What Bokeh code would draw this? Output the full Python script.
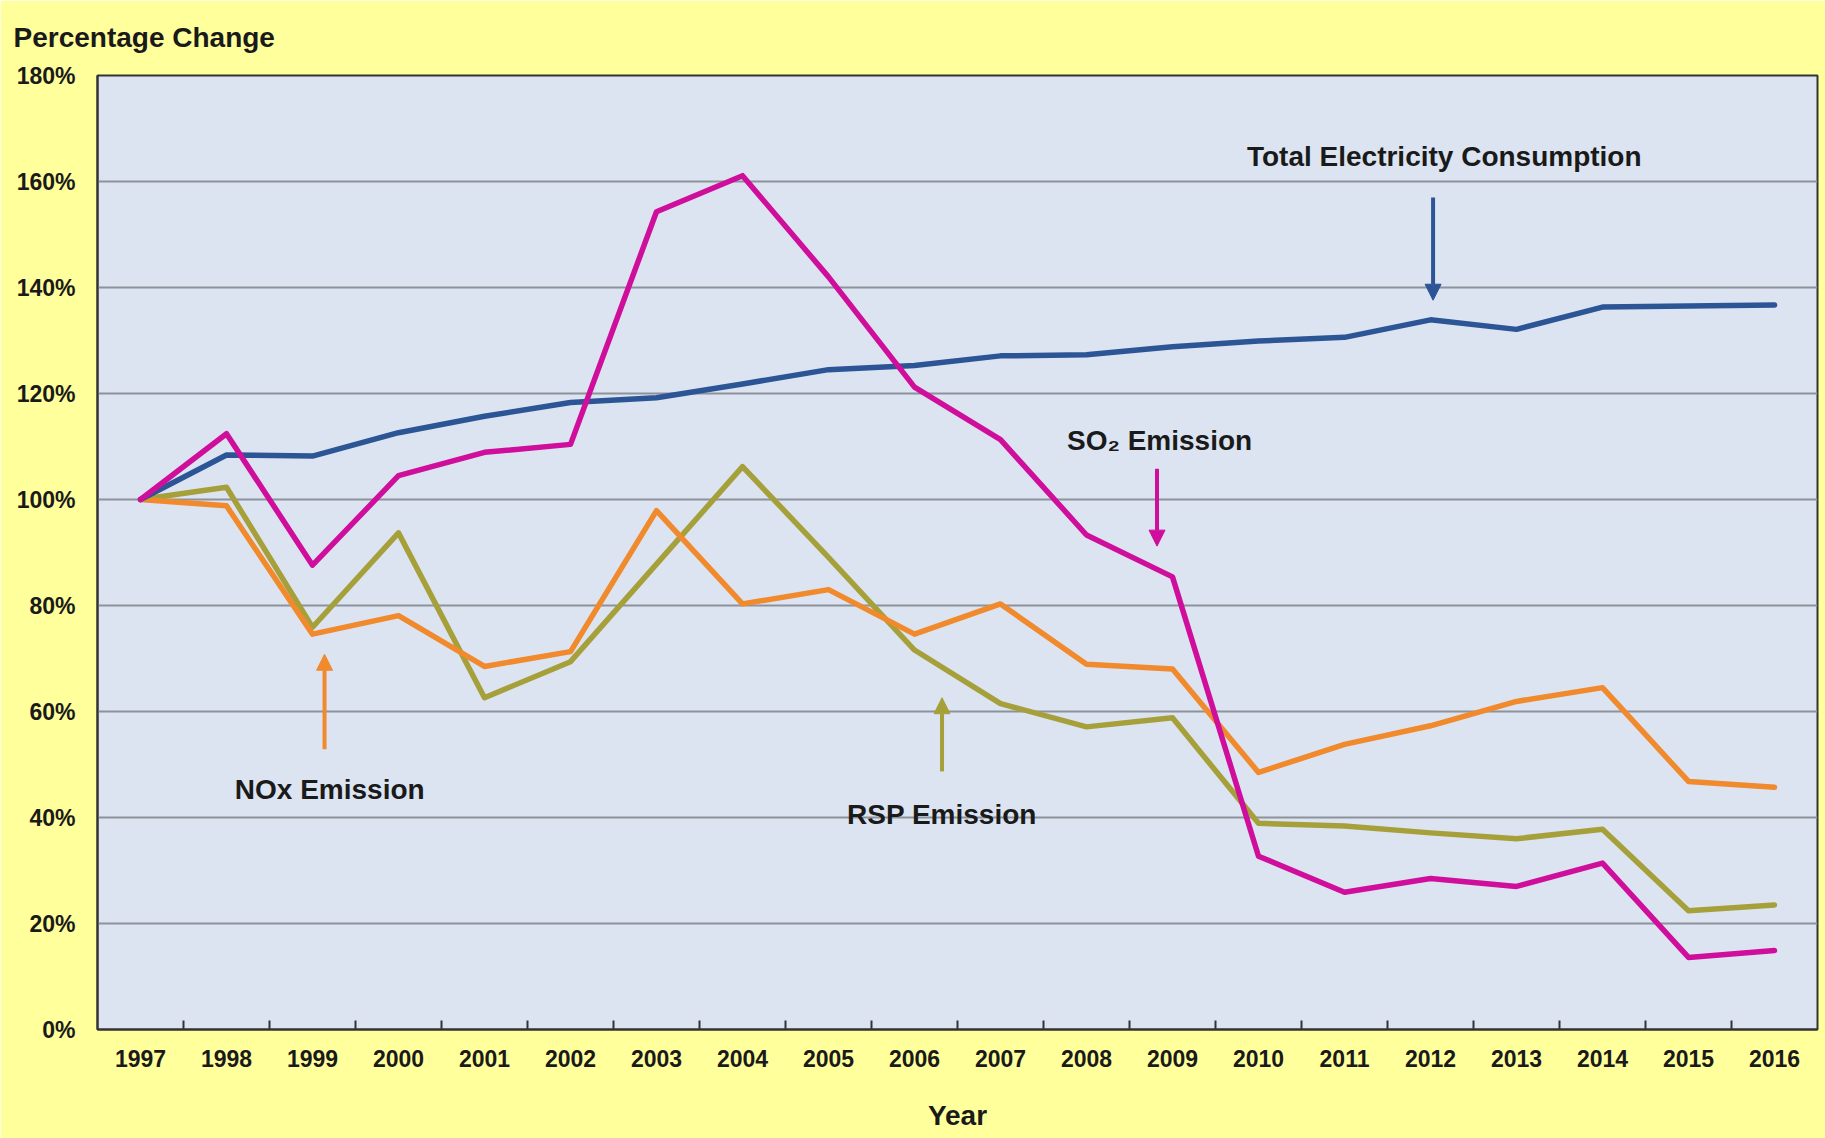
from bokeh.plotting import figure
from bokeh.models import (Range1d, FixedTicker, Label, Arrow, NormalHead, Title,
                          NumeralTickFormatter)
from bokeh.embed import file_html
from bokeh.resources import INLINE

# ---- data: percentage of 1997 level ----
years = ["1997", "1998", "1999", "2000", "2001", "2002", "2003", "2004", "2005", "2006",
         "2007", "2008", "2009", "2010", "2011", "2012", "2013", "2014", "2015", "2016"]

electricity = [100.0, 108.4, 108.2, 112.6, 115.7, 118.3, 119.2, 121.8, 124.5, 125.3,
               127.1, 127.3, 128.8, 129.9, 130.6, 133.9, 132.1, 136.3, 136.5, 136.7]
so2 = [100.0, 112.4, 87.6, 104.5, 108.9, 110.4, 154.3, 161.1, 142.0, 121.2,
       111.3, 93.3, 85.4, 32.7, 25.9, 28.5, 27.0, 31.4, 13.6, 14.9]
nox = [100.0, 98.8, 74.6, 78.1, 68.5, 71.3, 97.9, 80.3, 83.0, 74.6,
       80.3, 68.9, 68.0, 48.5, 53.8, 57.3, 61.9, 64.5, 46.8, 45.7]
rsp = [100.0, 102.3, 75.9, 93.7, 62.6, 69.4, 87.8, 106.2, 89.1, 71.6,
       61.5, 57.1, 58.8, 38.9, 38.4, 37.1, 36.0, 37.8, 22.4, 23.5]

y_ticks = [0, 20, 40, 60, 80, 100, 120, 140, 160, 180]

FONT = "Liberation Sans"
BLUE = "#2c5596"
MAGENTA = "#cf0f9b"
ORANGE = "#f08a2c"
OLIVE = "#a6a03a"
INK = "#1a1a1a"

xs = list(range(len(years)))

heading = Title(text="Percentage Change", align="left", vertical_align="top",
                offset=-84, standoff=42,
                text_font=FONT, text_font_style="bold", text_font_size="28px",
                text_color=INK)

p = figure(width=1825, height=1138, output_backend="svg", toolbar_location=None,
           title=heading,
           x_range=Range1d(-0.5, len(years) - 0.5), y_range=Range1d(0, 180),
           min_border_left=97, min_border_right=8, min_border_top=75, min_border_bottom=109)

p.background_fill_color = "#dce4f2"
p.border_fill_color = "#ffff9c"
p.outline_line_color = "#333333"
p.outline_line_width = 2

# x axis: year labels at centres, small inward ticks between years
xa = p.xaxis[0]
xa.ticker = FixedTicker(ticks=xs, minor_ticks=[i + 0.5 for i in xs[:-1]])
xa.major_label_overrides = {i: y for i, y in enumerate(years)}
xa.major_tick_in = 0
xa.major_tick_out = 0
xa.minor_tick_in = 9
xa.minor_tick_out = 0
xa.minor_tick_line_color = "#333333"
xa.minor_tick_line_width = 2
xa.axis_line_color = "#333333"
xa.axis_line_width = 2
xa.major_label_standoff = 20
xa.major_label_text_font = FONT
xa.major_label_text_font_style = "bold"
xa.major_label_text_font_size = "23px"
xa.major_label_text_color = INK
xa.axis_label = "Year"
xa.axis_label_text_font = FONT
xa.axis_label_text_font_style = "bold"
xa.axis_label_text_font_size = "28px"
xa.axis_label_text_color = INK
xa.axis_label_standoff = 30

ya = p.yaxis[0]
ya.ticker = FixedTicker(ticks=y_ticks)
ya.formatter = NumeralTickFormatter(format="0")
ya.major_label_overrides = {t: f"{t}%" for t in y_ticks}
ya.major_tick_in = 0
ya.major_tick_out = 0
ya.minor_tick_line_color = None
ya.axis_line_color = "#333333"
ya.axis_line_width = 2
ya.major_label_standoff = 22
ya.major_label_text_font = FONT
ya.major_label_text_font_style = "bold"
ya.major_label_text_font_size = "23px"
ya.major_label_text_color = INK

p.xgrid.grid_line_color = None
p.ygrid.ticker = FixedTicker(ticks=y_ticks[1:-1])
p.ygrid.grid_line_color = "#8e9299"
p.ygrid.grid_line_width = 2

# series
for vals, col in [(rsp, OLIVE), (nox, ORANGE), (electricity, BLUE), (so2, MAGENTA)]:
    p.line(xs, vals, line_color=col, line_width=5.5, line_join="round", line_cap="round")

# callout labels with arrows (x in year index, y in %)
callouts = [
    ("Total Electricity Consumption", 15.16, 164.8, BLUE, 15.03, 157.0, 137.6),
    ("SO\u2082 Emission", 11.85, 111.2, MAGENTA, 11.82, 105.8, 91.2),
    ("NOx Emission", 2.20, 45.2, ORANGE, 2.14, 52.9, 70.8),
    ("RSP Emission", 9.32, 40.6, OLIVE, 9.32, 48.7, 62.6),
]
for text, tx, ty, col, ax, ay0, ay1 in callouts:
    p.add_layout(Label(x=tx, y=ty, text=text, text_align="center", text_baseline="middle",
                       text_font=FONT, text_font_style="bold", text_font_size="28px",
                       text_color=INK))
    p.add_layout(Arrow(x_start=ax, y_start=ay0, x_end=ax, y_end=ay1,
                       line_color=col, line_width=4,
                       end=NormalHead(size=16, fill_color=col, line_color=col, line_width=1)))

open("out.html", "w").write(file_html(p, INLINE))
